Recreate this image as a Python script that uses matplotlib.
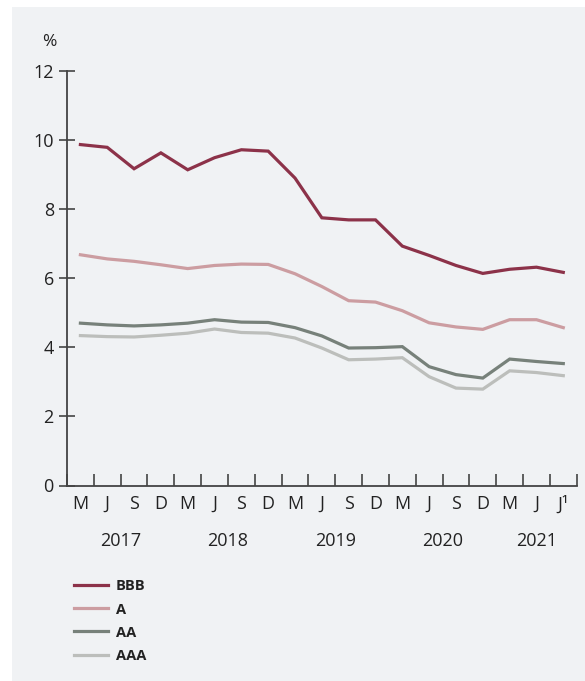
import matplotlib
matplotlib.use("Agg")
import matplotlib.pyplot as plt
from matplotlib.patches import Rectangle
from matplotlib.transforms import blended_transform_factory

plt.rcParams['font.family'] = ['Open Sans', 'DejaVu Sans']

# months (quarter ends) from March 2017 to July 2021
months = ["M", "J", "S", "D", "M", "J", "S", "D", "M", "J", "S", "D",
          "M", "J", "S", "D", "M", "J", "J\u00b9"]
years = ["2017", "2018", "2019", "2020", "2021"]
year_pos = [1.5, 5.5, 9.5, 13.5, 17.0]

bbb = [9.87, 9.79, 9.17, 9.63, 9.14, 9.49, 9.72, 9.68, 8.90, 7.75,
       7.69, 7.69, 6.93, 6.66, 6.37, 6.14, 6.26, 6.32, 6.17]
a = [6.68, 6.56, 6.49, 6.39, 6.28, 6.37, 6.41, 6.40, 6.13, 5.76,
     5.35, 5.31, 5.06, 4.71, 4.59, 4.52, 4.80, 4.80, 4.57]
aa = [4.70, 4.65, 4.62, 4.65, 4.70, 4.80, 4.73, 4.72, 4.57, 4.33,
      3.98, 3.99, 4.02, 3.44, 3.21, 3.11, 3.66, 3.59, 3.53]
aaa = [4.34, 4.31, 4.30, 4.35, 4.41, 4.53, 4.43, 4.41, 4.27, 3.98,
       3.64, 3.66, 3.70, 3.15, 2.82, 2.79, 3.32, 3.27, 3.18]

series = [("BBB", bbb, "#8c3249"), ("A", a, "#cc9da1"),
          ("AA", aa, "#77817a"), ("AAA", aaa, "#bcbebb")]

W, H = 585, 681
fig = plt.figure(figsize=(W / 100, H / 100), dpi=100)
fig.patch.set_facecolor("white")
fig.patches.append(Rectangle((12 / W, 0), 1, 1 - 7 / H, transform=fig.transFigure,
                             facecolor="#f0f2f4", edgecolor="none", zorder=-5))

left, right, top, bottom = 67, 576.7, 71, 485.5
ax = fig.add_axes([left / W, 1 - bottom / H, (right - left) / W, (bottom - top) / H])
ax.set_facecolor("none")
ax.set_zorder(2)

x = list(range(len(months)))
lines = []
for name, vals, col in series:
    ln, = ax.plot(x, vals, color=col, lw=2.3, label=name, solid_joinstyle="miter")
    lines.append(ln)

ax.set_xlim(-0.5, len(months) - 0.5)
ax.set_ylim(0, 12)
ax.set_yticks([0, 2, 4, 6, 8, 10, 12])
ax.set_xticks(x)
ax.set_xticklabels(months)
ax.set_xticks([i - 0.5 for i in range(len(months) + 1)], minor=True)

axc = "#444444"
for s in ["top", "right"]:
    ax.spines[s].set_visible(False)
for s in ["left", "bottom"]:
    ax.spines[s].set_color(axc)
    ax.spines[s].set_linewidth(1.3)

ax.tick_params(axis="y", direction="inout", length=11, width=1.2, color=axc,
               labelsize=13, labelcolor="#222222", pad=4)
ax.tick_params(axis="x", which="major", length=0, labelsize=13,
               labelcolor="#222222", pad=7)
ax.tick_params(axis="x", which="minor", direction="in", length=9, width=1.2, color=axc)

tr = blended_transform_factory(ax.transData, ax.transAxes)
for yr, p in zip(years, year_pos):
    ax.text(p, -0.134, yr, transform=tr, ha="center", va="center",
            fontsize=13, color="#222222")

fig.text(49 / W, 1 - 42 / H, "%", ha="center", va="center", fontsize=12.5, color="#222222")

leg = fig.legend(handles=lines, loc="upper left", bbox_to_anchor=(74 / W, 1 - 579.5 / H),
                 frameon=False, borderpad=0, borderaxespad=0, handlelength=2.3,
                 handletextpad=0.55, labelspacing=0.62,
                 prop={"size": 10.5, "weight": "bold"})
for t in leg.get_texts():
    t.set_color("#222222")

fig.savefig("out.png", dpi=100)
